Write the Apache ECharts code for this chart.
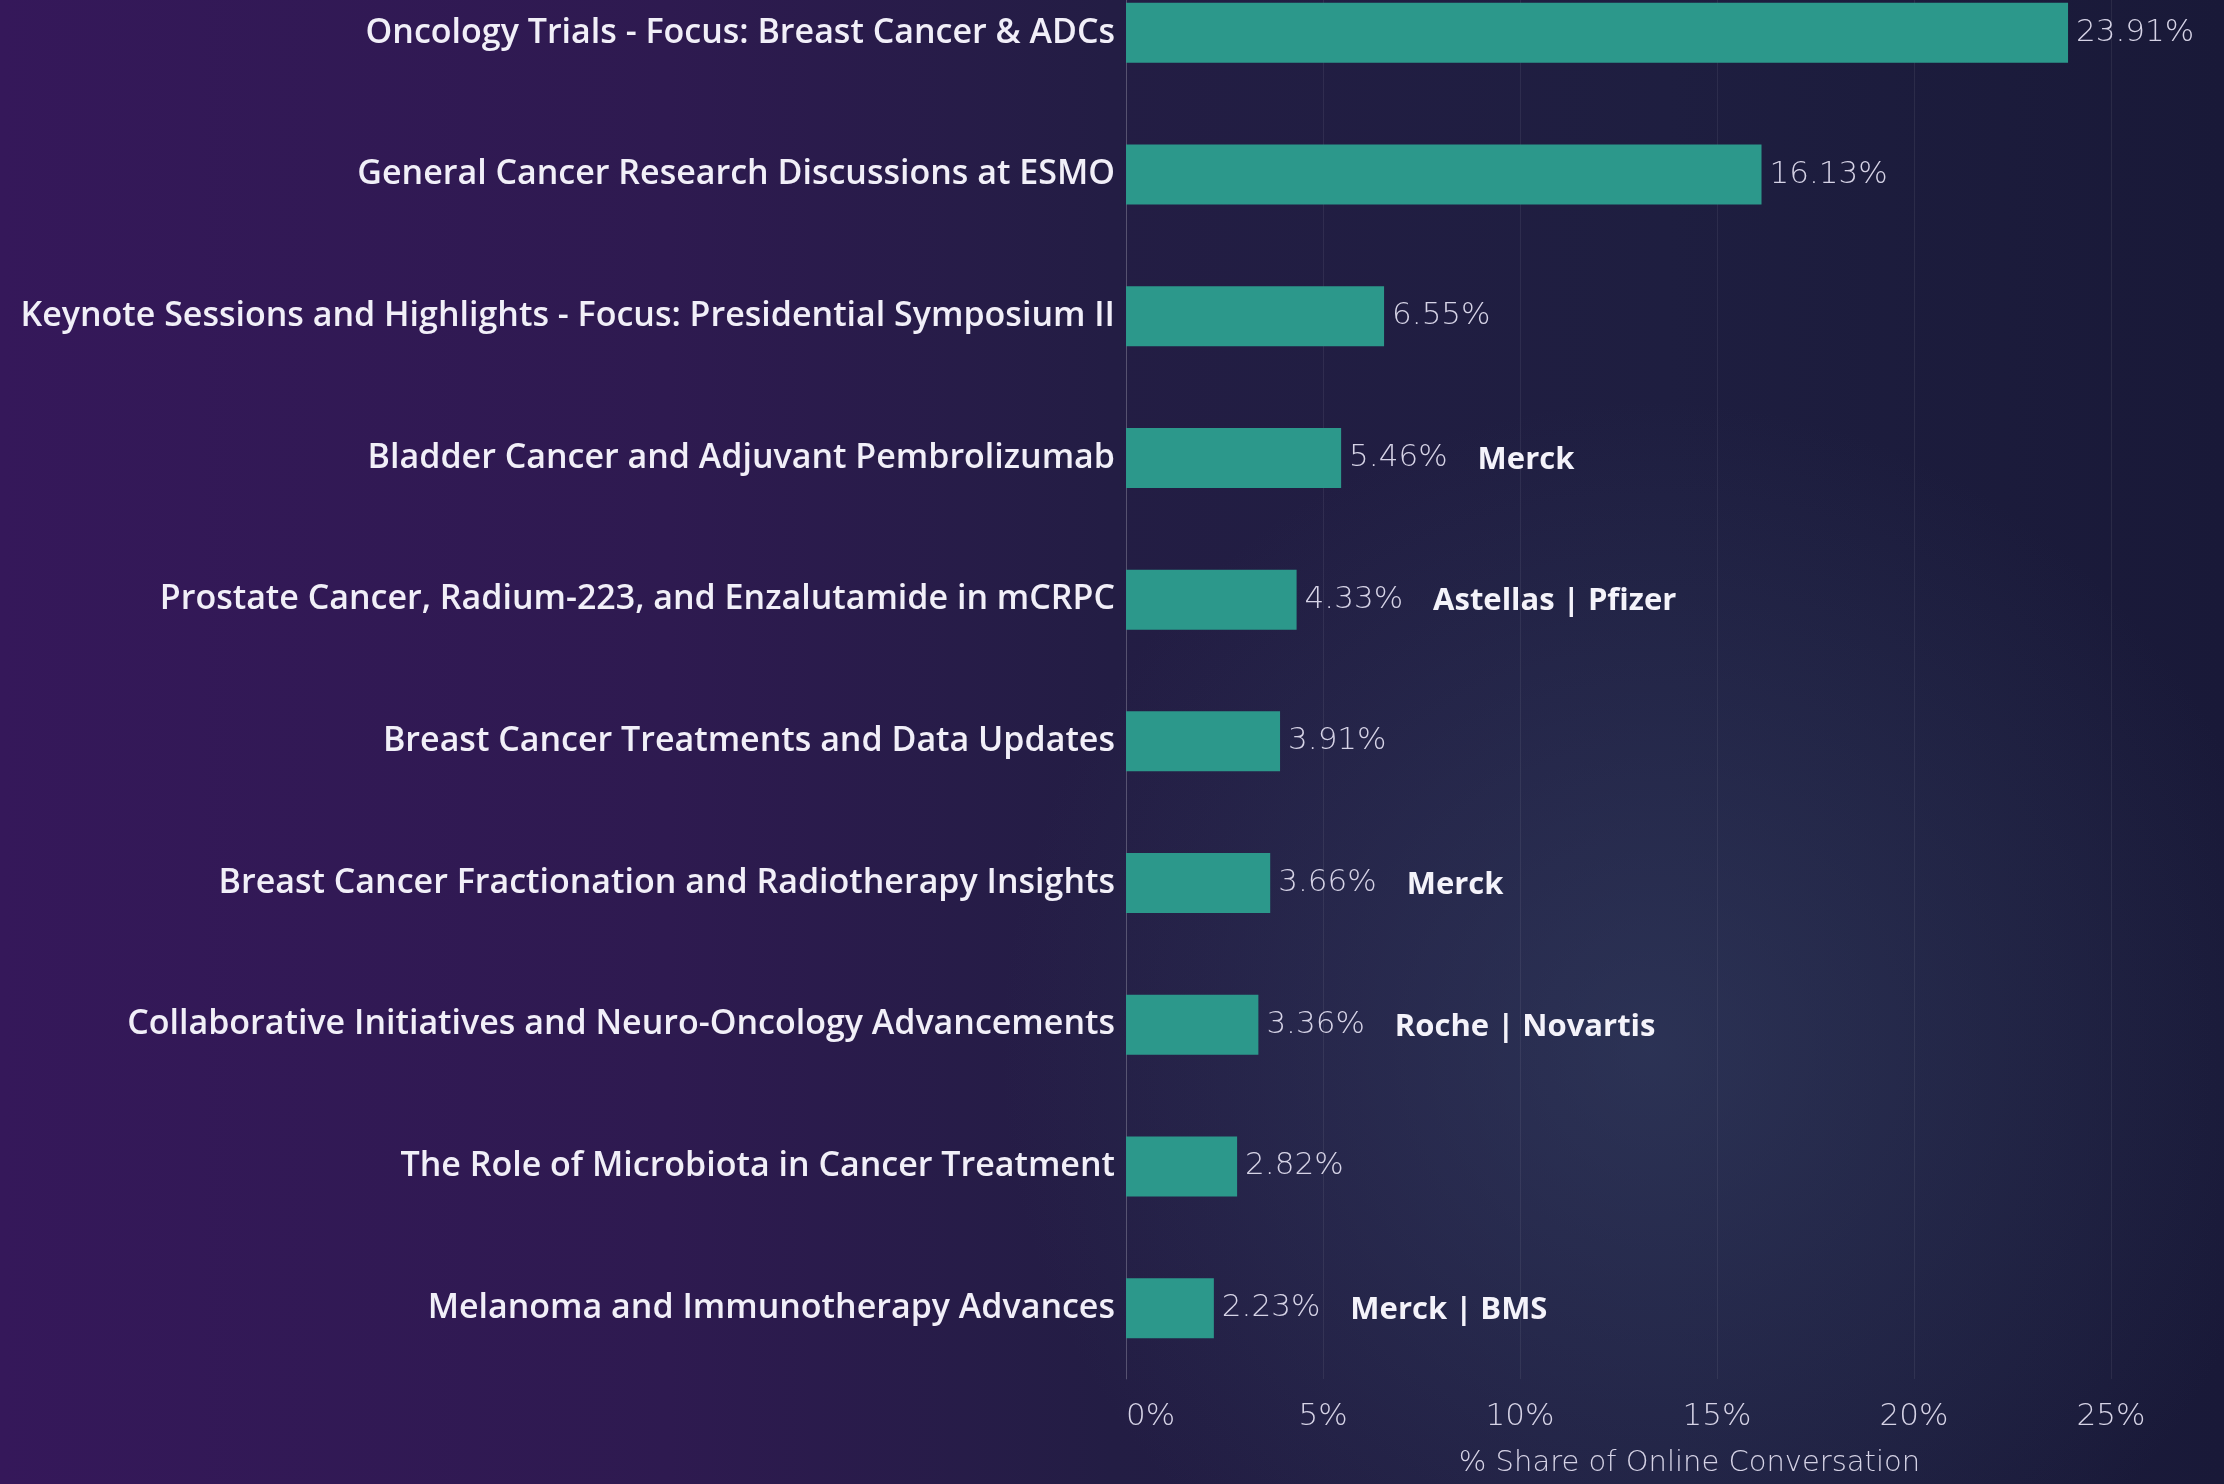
<!DOCTYPE html>
<html>
<head>
<meta charset="utf-8">
<script src="https://cdn.jsdelivr.net/npm/echarts@6/dist/echarts.min.js"></script>
<style>html,body{margin:0;padding:0;background:#1d1b3d;}#c{width:2224px;height:1484px;}</style>
</head>
<body>
<div id="c"></div>
<script>
const categories = [
  "Oncology Trials - Focus: Breast Cancer & ADCs",
  "General Cancer Research Discussions at ESMO",
  "Keynote Sessions and Highlights - Focus: Presidential Symposium II",
  "Bladder Cancer and Adjuvant Pembrolizumab",
  "Prostate Cancer, Radium-223, and Enzalutamide in mCRPC",
  "Breast Cancer Treatments and Data Updates",
  "Breast Cancer Fractionation and Radiotherapy Insights",
  "Collaborative Initiatives and Neuro-Oncology Advancements",
  "The Role of Microbiota in Cancer Treatment",
  "Melanoma and Immunotherapy Advances"
];
const shares = [23.91, 16.13, 6.55, 5.46, 4.33, 3.91, 3.66, 3.36, 2.82, 2.23];
const companies = ["", "", "", "Merck", "Astellas | Pfizer", "", "Merck", "Roche | Novartis", "", "Merck | BMS"];
const axisTicks = [0, 5, 10, 15, 20, 25];
const axisTitle = "% Share of Online Conversation";

const chart = echarts.init(document.getElementById('c'), null, {renderer: 'canvas'});
const option = {
  backgroundColor: {
    type: 'linear', x: 0, y: 0, x2: 1, y2: 0,
    colorStops: [
      {offset: 0, color: '#35185a'},
      {offset: 0.3, color: '#2e1a50'},
      {offset: 0.5, color: '#231d44'},
      {offset: 0.75, color: '#1e1e40'},
      {offset: 1, color: '#191938'}
    ]
  },
  graphic: [{
    type: 'circle', silent: true, z: -10,
    shape: {cx: 1650, cy: 1050, r: 650},
    style: {
      fill: {
        type: 'radial', x: 0.5, y: 0.5, r: 0.5,
        colorStops: [
          {offset: 0, color: 'rgba(60,75,110,0.45)'},
          {offset: 1, color: 'rgba(60,75,110,0)'}
        ]
      }
    }
  }],
  grid: {left: 1126, right: 113, top: -38, bottom: 105, containLabel: false, outerBoundsMode: 'none'},
  xAxis: {
    type: 'value', min: 0, max: 25, interval: 5,
    axisLine: {show: false}, axisTick: {show: false},
    splitLine: {show: true, lineStyle: {color: 'rgba(255,255,255,0.07)', width: 1}},
    axisLabel: {
      formatter: v => axisTicks.includes(v) ? v + '%' : '',
      color: '#d6d3e6', fontFamily: 'DejaVu Sans', fontWeight: 200, fontSize: 31, margin: 22,
      alignMinLabel: 'left'
    },
    name: axisTitle, nameLocation: 'middle', nameGap: 70,
    nameTextStyle: {color: '#d6d3e6', fontFamily: 'DejaVu Sans', fontWeight: 200, fontSize: 29, padding: [0, 0, 0, 142]}
  },
  yAxis: {
    type: 'category', data: categories, inverse: true,
    axisLine: {show: true, lineStyle: {color: 'rgba(255,255,255,0.18)', width: 1}},
    axisTick: {show: false},
    axisLabel: {color: '#f1eff8', fontFamily: 'Open Sans', fontWeight: 600, fontSize: 34, margin: 11}
  },
  series: [{
    type: 'bar',
    data: shares,
    barWidth: 60,
    itemStyle: {color: '#2c988b'},
    label: {
      show: true, position: 'right', distance: 8,
      formatter: p => {
        const c = companies[p.dataIndex];
        return '{v|' + p.value.toFixed(2) + '%}' + (c ? '{c|' + c + '}' : '');
      },
      rich: {
        v: {color: '#d6d3e6', fontFamily: 'DejaVu Sans', fontSize: 31, fontWeight: 200},
        c: {color: '#f4f3fa', fontFamily: 'Open Sans', fontSize: 31, fontWeight: 700, padding: [4, 0, 0, 30]}
      }
    }
  }]
};
chart.setOption(option);
</script>
</body>
</html>
